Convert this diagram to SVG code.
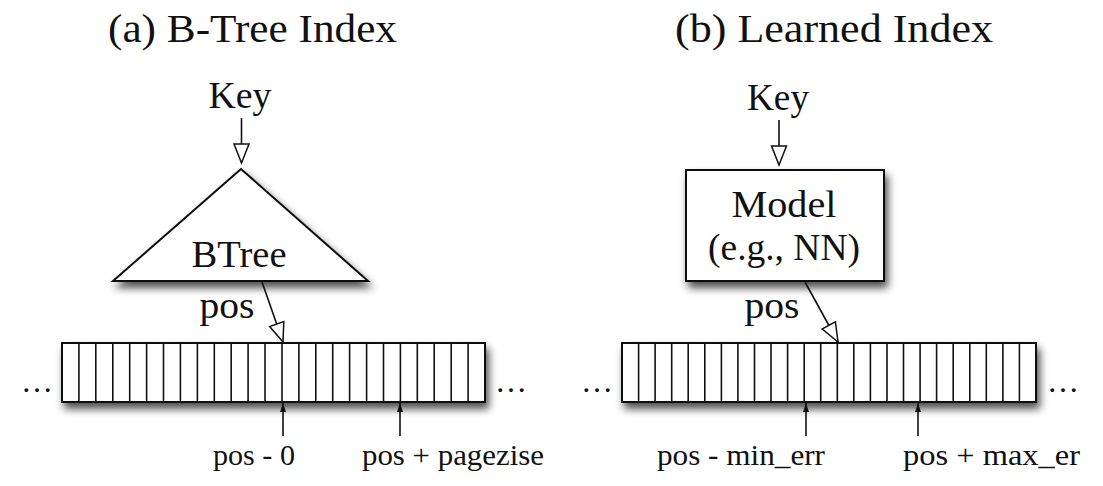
<svg xmlns="http://www.w3.org/2000/svg" width="1103" height="486" viewBox="0 0 1103 486">
<defs>
<style>
text{font-family:"Liberation Serif","Times New Roman",serif;fill:#111}
.title{font-size:40px}
.lbl{font-size:38px}
.small{font-size:30px}
.dots{font-size:32px}
.shape{fill:#fff;stroke:#111;stroke-width:2}
.cell{stroke:#111;stroke-width:1.6}
.conn{stroke:#111;stroke-width:1.6;fill:none}
</style>
<filter id="sh" x="-10%" y="-20%" width="130%" height="170%">
<feGaussianBlur in="SourceAlpha" stdDeviation="4"/>
<feOffset dx="3" dy="6"/>
<feComponentTransfer><feFuncA type="linear" slope="0.7"/></feComponentTransfer>
<feMerge><feMergeNode/><feMergeNode in="SourceGraphic"/></feMerge>
</filter>
<marker id="open" markerUnits="userSpaceOnUse" markerWidth="22" markerHeight="18" viewBox="0 0 22 18" refX="20" refY="9" orient="auto">
<path d="M1,1.5 L20,9 L1,16.5 z" fill="#fff" stroke="#111" stroke-width="1.5"/>
</marker>
<marker id="small" markerUnits="userSpaceOnUse" markerWidth="10" markerHeight="8" viewBox="0 0 10 8" refX="9" refY="4" orient="auto">
<path d="M0,1 L9,4 L0,7 z" fill="#111"/>
</marker>
</defs>

<text class="title" x="108" y="42" textLength="289" lengthAdjust="spacingAndGlyphs">(a) B-Tree Index</text>
<text class="title" x="675" y="42" textLength="318" lengthAdjust="spacingAndGlyphs">(b) Learned Index</text>

<g id="btree">
<polygon class="shape" filter="url(#sh)" points="241,169 113,281 368,281"/>
<text class="lbl" x="239" y="267" text-anchor="middle" textLength="95" lengthAdjust="spacingAndGlyphs">BTree</text>
</g>

<g id="model">
<rect class="shape" filter="url(#sh)" x="686" y="170" width="198" height="111"/>
<text class="lbl" x="784" y="217" text-anchor="middle" textLength="105" lengthAdjust="spacingAndGlyphs">Model</text>
<text class="lbl" x="784" y="260" text-anchor="middle" textLength="152" lengthAdjust="spacingAndGlyphs">(e.g., NN)</text>
</g>

<g id="key-a"><text class="lbl" x="240" y="108" text-anchor="middle" textLength="63" lengthAdjust="spacingAndGlyphs">Key</text></g>
<g id="key-b"><text class="lbl" x="778" y="110" text-anchor="middle" textLength="62" lengthAdjust="spacingAndGlyphs">Key</text></g>
<g id="pos-a"><text class="lbl" x="227" y="318" text-anchor="middle" textLength="55" lengthAdjust="spacingAndGlyphs">pos</text></g>
<g id="pos-b"><text class="lbl" x="772" y="318" text-anchor="middle" textLength="55" lengthAdjust="spacingAndGlyphs">pos</text></g>

<g id="array-a">
<rect class="shape" filter="url(#sh)" x="62" y="343" width="423" height="59"/>
<g class="cell">
<line x1="78.9" y1="343" x2="78.9" y2="402"/><line x1="95.8" y1="343" x2="95.8" y2="402"/><line x1="112.8" y1="343" x2="112.8" y2="402"/><line x1="129.7" y1="343" x2="129.7" y2="402"/><line x1="146.6" y1="343" x2="146.6" y2="402"/><line x1="163.5" y1="343" x2="163.5" y2="402"/><line x1="180.4" y1="343" x2="180.4" y2="402"/><line x1="197.4" y1="343" x2="197.4" y2="402"/><line x1="214.3" y1="343" x2="214.3" y2="402"/><line x1="231.2" y1="343" x2="231.2" y2="402"/><line x1="248.1" y1="343" x2="248.1" y2="402"/><line x1="265" y1="343" x2="265" y2="402"/><line x1="282" y1="343" x2="282" y2="402"/><line x1="298.9" y1="343" x2="298.9" y2="402"/><line x1="315.8" y1="343" x2="315.8" y2="402"/><line x1="332.7" y1="343" x2="332.7" y2="402"/><line x1="349.6" y1="343" x2="349.6" y2="402"/><line x1="366.6" y1="343" x2="366.6" y2="402"/><line x1="383.5" y1="343" x2="383.5" y2="402"/><line x1="400.4" y1="343" x2="400.4" y2="402"/><line x1="417.3" y1="343" x2="417.3" y2="402"/><line x1="434.2" y1="343" x2="434.2" y2="402"/><line x1="451.2" y1="343" x2="451.2" y2="402"/><line x1="468.1" y1="343" x2="468.1" y2="402"/>
</g>
<text class="dots" x="37" y="392" text-anchor="middle">…</text>
<text class="dots" x="511" y="392" text-anchor="middle">…</text>
</g>

<g id="array-b">
<rect class="shape" filter="url(#sh)" x="622" y="343" width="414" height="59"/>
<g class="cell">
<line x1="638.6" y1="343" x2="638.6" y2="402"/><line x1="655.1" y1="343" x2="655.1" y2="402"/><line x1="671.7" y1="343" x2="671.7" y2="402"/><line x1="688.2" y1="343" x2="688.2" y2="402"/><line x1="704.8" y1="343" x2="704.8" y2="402"/><line x1="721.4" y1="343" x2="721.4" y2="402"/><line x1="737.9" y1="343" x2="737.9" y2="402"/><line x1="754.5" y1="343" x2="754.5" y2="402"/><line x1="771" y1="343" x2="771" y2="402"/><line x1="787.6" y1="343" x2="787.6" y2="402"/><line x1="804.2" y1="343" x2="804.2" y2="402"/><line x1="820.7" y1="343" x2="820.7" y2="402"/><line x1="837.3" y1="343" x2="837.3" y2="402"/><line x1="853.8" y1="343" x2="853.8" y2="402"/><line x1="870.4" y1="343" x2="870.4" y2="402"/><line x1="887" y1="343" x2="887" y2="402"/><line x1="903.5" y1="343" x2="903.5" y2="402"/><line x1="920.1" y1="343" x2="920.1" y2="402"/><line x1="936.6" y1="343" x2="936.6" y2="402"/><line x1="953.2" y1="343" x2="953.2" y2="402"/><line x1="969.8" y1="343" x2="969.8" y2="402"/><line x1="986.3" y1="343" x2="986.3" y2="402"/><line x1="1002.9" y1="343" x2="1002.9" y2="402"/><line x1="1019.4" y1="343" x2="1019.4" y2="402"/>
</g>
<text class="dots" x="597" y="392" text-anchor="middle">…</text>
<text class="dots" x="1063" y="392" text-anchor="middle">…</text>
</g>

<g id="bound-labels">
<text class="small" x="213" y="465" textLength="82" lengthAdjust="spacingAndGlyphs">pos - 0</text>
<text class="small" x="362" y="465" textLength="182" lengthAdjust="spacingAndGlyphs">pos + pagezise</text>
<text class="small" x="657" y="465" textLength="168" lengthAdjust="spacingAndGlyphs">pos - min_err</text>
<text class="small" x="903" y="465" textLength="177" lengthAdjust="spacingAndGlyphs">pos + max_er</text>
</g>

<g id="connectors">
<line class="conn" x1="241.5" y1="118" x2="241.5" y2="163" marker-end="url(#open)"/>
<line class="conn" x1="779" y1="120" x2="779" y2="165" marker-end="url(#open)"/>
<line class="conn" x1="262" y1="282" x2="283" y2="342" marker-end="url(#open)"/>
<line class="conn" x1="805" y1="282" x2="838" y2="342" marker-end="url(#open)"/>
<line class="conn" x1="283" y1="436" x2="283" y2="403" marker-end="url(#small)"/>
<line class="conn" x1="400" y1="436" x2="400" y2="403" marker-end="url(#small)"/>
<line class="conn" x1="806" y1="436" x2="806" y2="403" marker-end="url(#small)"/>
<line class="conn" x1="918" y1="436" x2="918" y2="403" marker-end="url(#small)"/>
</g>
</svg>
